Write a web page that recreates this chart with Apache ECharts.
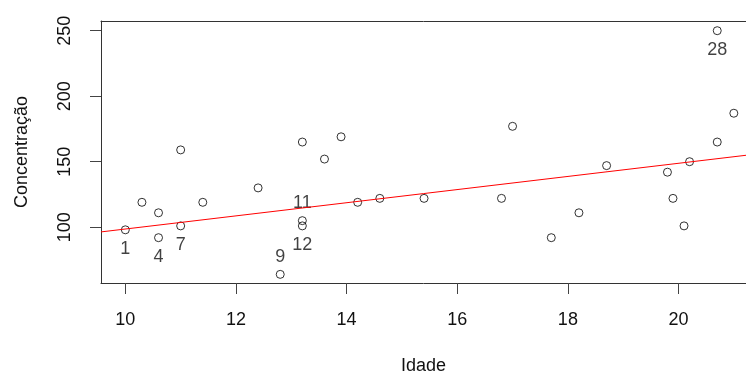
<!DOCTYPE html>
<html>
<head>
<meta charset="utf-8">
<script src="https://cdn.jsdelivr.net/npm/echarts@6/dist/echarts.min.js"></script>
<style>
  html, body { margin: 0; padding: 0; background: #fff; }
  #chart { width: 746px; height: 376px; }
</style>
</head>
<body>
<div id="chart"></div>
<script>
// idade x concentracao
const idade = [10, 10.3, 10.6, 10.6, 11, 11, 11.4, 12.4, 12.8, 13.2, 13.2, 13.2, 13.6, 13.9, 14.2,
               14.6, 15.4, 16.8, 17, 17.7, 18.2, 18.7, 19.8, 19.9, 20.1, 20.2, 20.7, 20.7, 21];
const conc = [98, 119, 111, 92, 159, 101, 119, 130, 64, 165, 105, 101, 152, 169, 119,
              122, 122, 122, 177, 92, 111, 147, 142, 122, 101, 150, 250, 165, 187];
// identified points ('' = no label)
const pointLabels = ['1', '', '', '4', '', '7', '', '', '9', '', '11', '12', '', '', '',
                     '', '', '', '', '', '', '', '', '', '', '', '28', '', ''];
const labelsAbove = ['9', '11'];

// fitted line (abline), ends at the plot edges
const lineX = [9.56, 21.22];
const lineY = [96.4, 154.9];

const xTicks = [10, 12, 14, 16, 18, 20];
const yTicks = [100, 150, 200, 250];

let chart = echarts.init(document.getElementById("chart"));

let points = idade.map((x, i) => {
    let item = { value: [x, conc[i]] };
    let txt = pointLabels[i];
    if (txt) {
        let above = labelsAbove.includes(txt);
        item.label = {
            show: true,
            formatter: txt,
            position: above ? "top" : "bottom",
            distance: above ? 4 : 6
        };
    }
    return item;
});

const font = "Liberation Sans, Arial, sans-serif";
const frame = { show: true, onZero: false, lineStyle: { color: "#333", width: 1 } };

let option = {
    animation: false,
    backgroundColor: "#fff",
    grid: { left: 101, top: 21, bottom: 93, right: 0, outerBoundsMode: "none" },
    xAxis: [
        {
            type: "value",
            min: 9.56,
            max: 21.22,
            name: "Idade",
            nameLocation: "middle",
            nameGap: 74,
            nameTextStyle: { fontFamily: font, fontSize: 18, color: "#111" },
            axisLine: frame,
            axisTick: {
                show: true, length: 11, customValues: xTicks,
                lineStyle: { color: "#444" }
            },
            axisLabel: {
                customValues: xTicks, margin: 28,
                fontFamily: font, fontSize: 18, color: "#111"
            },
            splitLine: { show: false }
        },
        {
            type: "value",
            position: "top",
            min: 9.56,
            max: 21.22,
            axisLine: frame,
            axisTick: { show: false },
            axisLabel: { show: false },
            splitLine: { show: false }
        }
    ],
    yAxis: {
        type: "value",
        min: 57.4,
        max: 257.4,
        name: "Concentração",
        nameLocation: "middle",
        nameGap: 70,
        nameRotate: 90,
        nameTextStyle: { fontFamily: font, fontSize: 18, color: "#111" },
        axisLine: frame,
        axisTick: {
            show: true, length: 11, customValues: yTicks,
            lineStyle: { color: "#444" }
        },
        axisLabel: {
            customValues: yTicks, rotate: 90, margin: 27,
            fontFamily: font, fontSize: 18, color: "#111"
        },
        splitLine: { show: false }
    },
    series: [
        {
            type: "scatter",
            data: points,
            symbol: "circle",
            symbolSize: 8,
            itemStyle: { color: "rgba(0,0,0,0)", borderColor: "#000", borderWidth: 1 },
            label: { fontFamily: font, fontSize: 18, color: "#111" },
            emphasis: { disabled: true }
        },
        {
            type: "line",
            data: lineX.map((x, i) => [x, lineY[i]]),
            symbol: "none",
            lineStyle: { color: "#ff0000", width: 1 },
            z: 3
        }
    ]
};
chart.setOption(option);
</script>
</body>
</html>
